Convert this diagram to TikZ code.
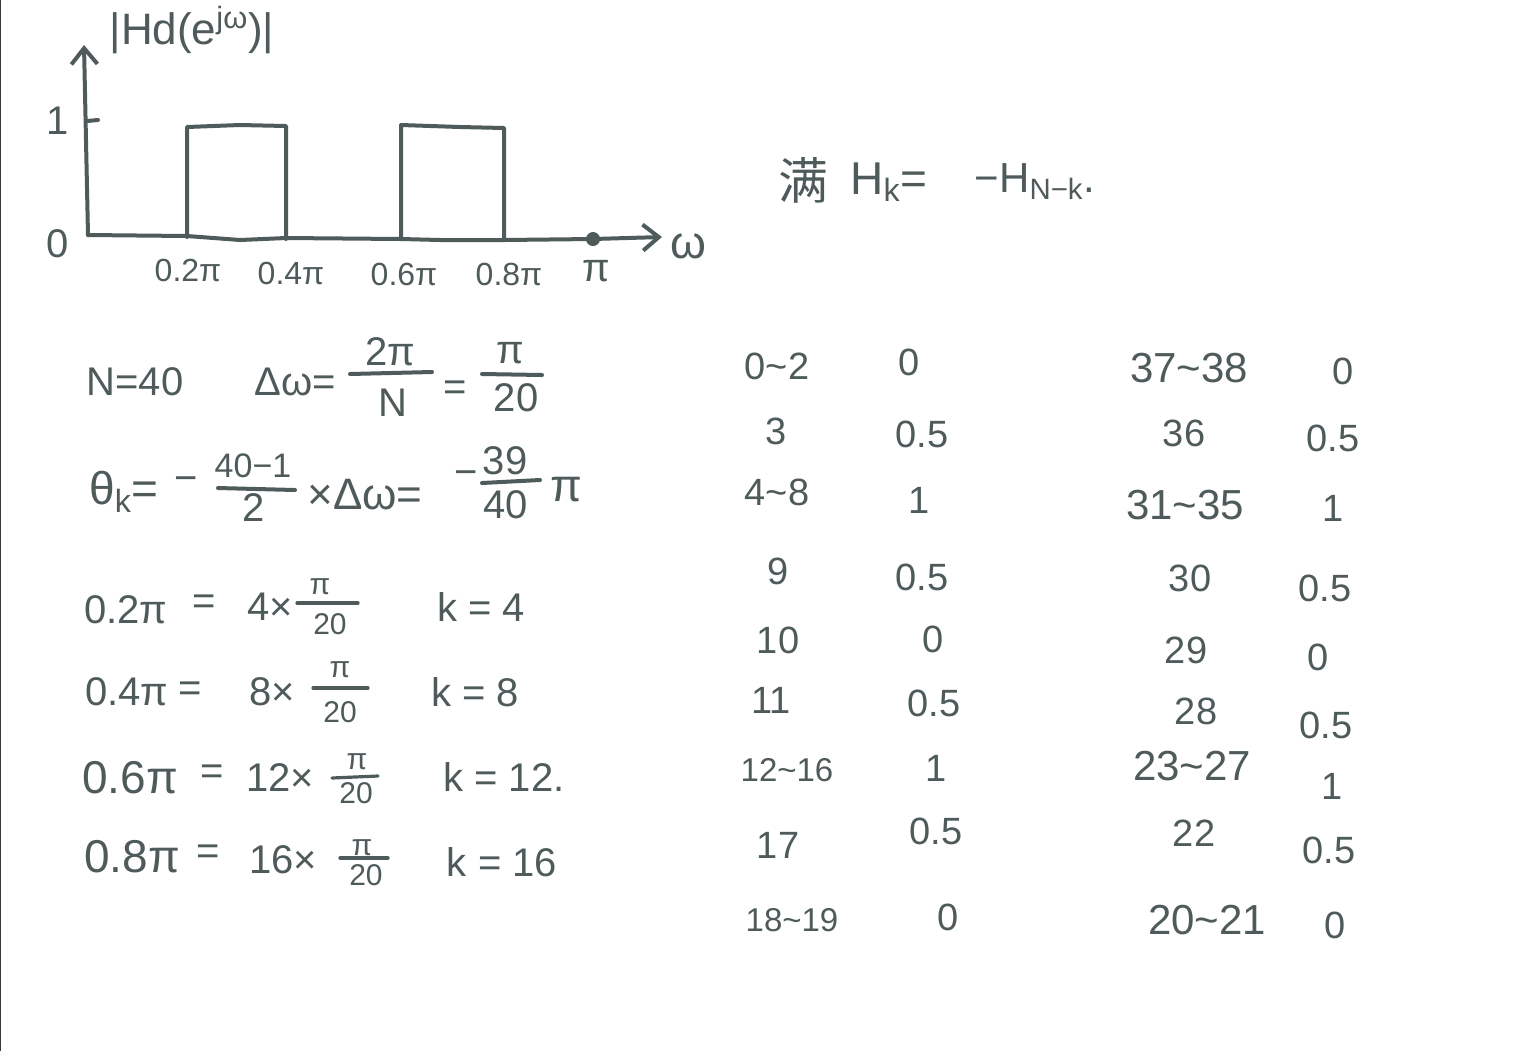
\documentclass[tikz,border=0pt]{standalone}
\usepackage{fontspec}
\setmainfont{Liberation Sans}
\newfontfamily\cjk{Noto Sans CJK SC}
\usetikzlibrary{arrows.meta}
\definecolor{ink}{HTML}{4F5B5B}
\definecolor{pageedge}{HTML}{3A3A3A}

\begin{document}
\begin{tikzpicture}[
  x=0.5pt, y=-0.5pt,
  >={Straight Barb[length=8pt,width=13pt,line width=2pt]},
  every node/.style={text=ink,inner sep=0pt},
  pen/.style={draw=ink,line width=2pt,line cap=round,line join=round},
  thin pen/.style={draw=ink,line width=1.6pt,line cap=round,line join=round},
  big text/.style={font=\fontsize{20}{24}\selectfont},
  wide text/.style={font=\fontsize{23}{28}\selectfont},
  tick text/.style={font=\fontsize{16}{20}\selectfont},
  frac text/.style={font=\fontsize{15}{18}\selectfont},
  row text/.style={font=\fontsize{19}{24}\selectfont},
  tight row/.style={font=\fontsize{16.5}{20}\selectfont},
  wide row/.style={font=\fontsize{21}{26}\selectfont}
]
\useasboundingbox (0,0) rectangle (1536,1051);
\fill[white] (0,0) rectangle (1536,1051);
\draw[pageedge,line width=1.2pt] (0,0) -- (0,1051);

% axes
\coordinate (origin) at (88,235);
\coordinate (ytip) at (84,45);
\coordinate (xtip) at (662,237);
\draw[pen,->] (origin) -- (ytip);
\draw[pen,->] (origin) -- (187,236) -- (240,240) -- (286,238) -- (401,239)
  -- (440,240) -- (504,240) -- (593,239) -- (xtip);
\draw[pen] (87,121) -- (98,120);
\fill[ink] (593,239) circle (7);

% the two bands
\draw[pen] (187,237) -- (187,127) -- (240,125) -- (286,126) -- (286,239);
\draw[pen] (401,237) -- (401,125) -- (460,127) -- (504,128) -- (504,240);

\node[font=\fontsize{22}{26}\selectfont] (ylabel) at (192,30) {|Hd(e\textsuperscript{jω})|};
\node[wide text] (xlabel) at (688,246) {ω};
\node[big text] (one) at (58,121) {1};
\node[big text] (zero) at (58,244) {0};
\node[tick text] (tick a) at (188,270) {0.2π};
\node[tick text] (tick b) at (291,273) {0.4π};
\node[tick text] (tick c) at (404,274) {0.6π};
\node[tick text] (tick d) at (509,274) {0.8π};
\node[big text] (tick e) at (596,271) {π};

% condition
\node[font=\fontsize{25}{30}\selectfont] (full) at (803,180) {\cjk 满};
\node[wide text] (hk) at (889,182) {H\textsubscript{k}=};
\node[font=\fontsize{21}{26}\selectfont] (hnk) at (1035,182) {−H\textsubscript{N−k}.};

% first equations
\node[big text] (nval) at (135,382) {N=40};
\node[big text] (dw) at (295,382) {Δω=};
\node[big text] (two pi) at (390,352) {2π};
\draw[pen] (350,374) -- (432,372);
\node[big text] (bign) at (393,403) {N};
\node[big text] (eqa) at (455,391) {=};
\node[big text] (pi a) at (510,353) {π};
\draw[pen] (482,374) -- (542,375);
\node[big text] (twenty) at (516,398) {20};

\node[wide text] (theta) at (124,492) {θ\textsubscript{k}=};
\node[big text] (minus a) at (186,484) {−};
\node[font=\fontsize{17}{20}\selectfont] (forty one) at (253,466) {40−1};
\draw[pen] (218,488) -- (295,490);
\node[big text] (two) at (254,508) {2};
\node[font=\fontsize{22}{26}\selectfont] (dwb) at (365,495) {×Δω=};
\node[big text] (minus b) at (466,478) {−};
\node[big text] (thirty nine) at (505,461) {39};
\draw[pen] (482,483) -- (540,480);
\node[big text] (forty) at (506,505) {40};
\node[wide text] (pi b) at (566,490) {π};

% band edges
\node[big text] (edge a) at (126,610) {0.2π};
\node[big text] (eq a) at (204,605) {=};
\node[big text] (fac a) at (270,607) {4×};
\node[frac text] (pi c) at (320,587) {π};
\draw[thin pen] (297,603) -- (358,603);
\node[frac text] (den a) at (330,624) {20};
\node[big text] (k a) at (481,607) {k = 4};

\node[big text] (edge b) at (127,692) {0.4π};
\node[big text] (eq b) at (190,692) {=};
\node[big text] (fac b) at (272,692) {8×};
\node[frac text] (pi d) at (340,670) {π};
\draw[thin pen] (313,688) -- (368,688);
\node[frac text] (den b) at (340,712) {20};
\node[big text] (k b) at (475,692) {k = 8};

\node[wide text] (edge c) at (130,778) {0.6π};
\node[big text] (eq c) at (212,775) {=};
\node[big text] (fac c) at (280,778) {12×};
\node[frac text] (pi e) at (357,762) {π};
\draw[thin pen] (332,778) -- (378,776);
\node[frac text] (den c) at (356,793) {20};
\node[big text] (k c) at (504,777) {k = 12.};

\node[wide text] (edge d) at (132,857) {0.8π};
\node[big text] (eq d) at (208,855) {=};
\node[big text] (fac d) at (283,860) {16×};
\node[frac text] (pi f) at (362,848) {π};
\draw[thin pen] (340,858) -- (388,858);
\node[frac text] (den d) at (366,875) {20};
\node[big text] (k d) at (502,862) {k = 16};

% left table
\node[row text] (la k) at (777,366) {0\textasciitilde2};
\node[row text] (la v) at (909,362) {0};
\node[row text] (lb k) at (776,431) {3};
\node[row text] (lb v) at (922,434) {0.5};
\node[row text] (lc k) at (777,492) {4\textasciitilde8};
\node[row text] (lc v) at (919,500) {1};
\node[row text] (ld k) at (778,571) {9};
\node[row text] (ld v) at (922,577) {0.5};
\node[row text] (le k) at (778,640) {10};
\node[row text] (le v) at (933,639) {0};
\node[row text] (lf k) at (771,700) {11};
\node[row text] (lf v) at (934,703) {0.5};
\node[tight row] (lg k) at (787,770) {12\textasciitilde16};
\node[row text] (lg v) at (936,768) {1};
\node[row text] (lh k) at (778,845) {17};
\node[row text] (lh v) at (936,831) {0.5};
\node[tight row] (li k) at (792,920) {18\textasciitilde19};
\node[row text] (li v) at (948,917) {0};

% right table
\node[wide row] (ra k) at (1189,368) {37\textasciitilde38};
\node[row text] (ra v) at (1343,371) {0};
\node[row text] (rb k) at (1184,433) {36};
\node[row text] (rb v) at (1333,438) {0.5};
\node[wide row] (rc k) at (1185,505) {31\textasciitilde35};
\node[row text] (rc v) at (1333,508) {1};
\node[row text] (rd k) at (1190,578) {30};
\node[row text] (rd v) at (1325,588) {0.5};
\node[row text] (re k) at (1186,650) {29};
\node[row text] (re v) at (1318,657) {0};
\node[row text] (rf k) at (1196,711) {28};
\node[row text] (rf v) at (1326,725) {0.5};
\node[wide row] (rg k) at (1192,766) {23\textasciitilde27};
\node[row text] (rg v) at (1332,786) {1};
\node[row text] (rh k) at (1194,833) {22};
\node[row text] (rh v) at (1329,850) {0.5};
\node[wide row] (ri k) at (1207,920) {20\textasciitilde21};
\node[row text] (ri v) at (1335,925) {0};
\end{tikzpicture}
\end{document}
